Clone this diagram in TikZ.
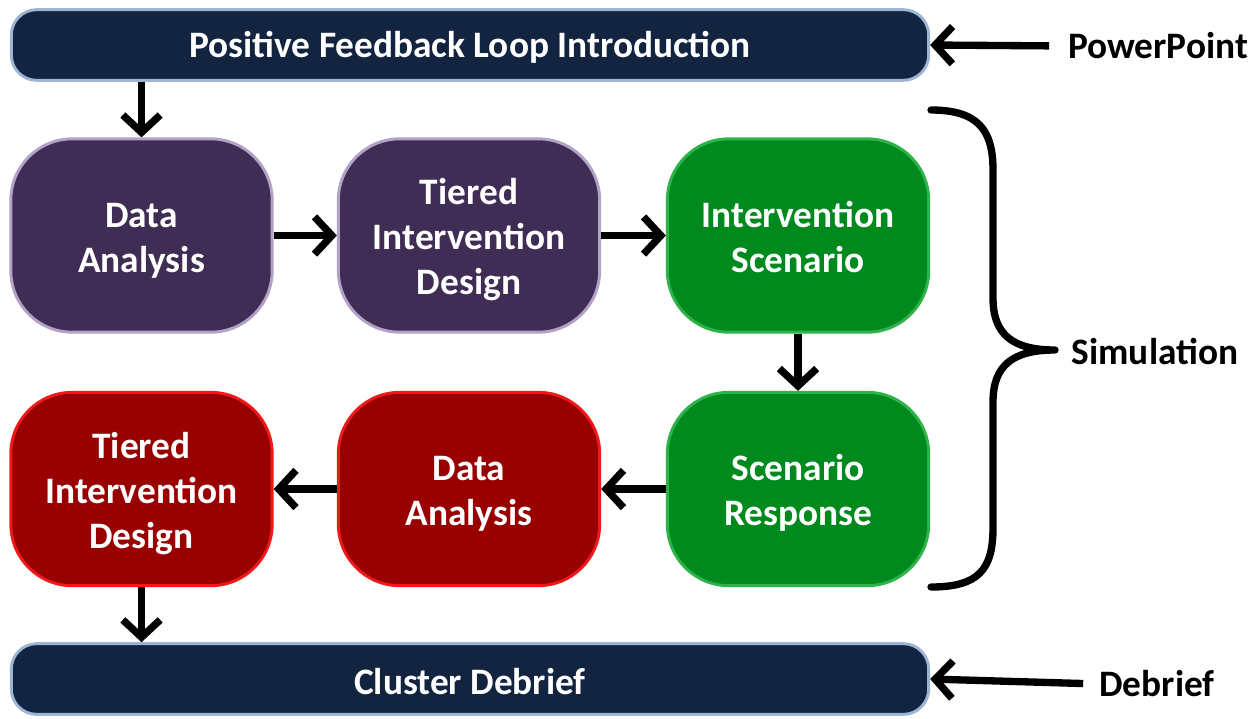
\documentclass[tikz,border=0pt]{standalone}
\usepackage{fontspec}
\setmainfont{Carlito}
\usetikzlibrary{arrows.meta}
\definecolor{navy}{HTML}{12243F}
\definecolor{navyedge}{HTML}{9DB4D4}
\definecolor{purp}{HTML}{3F2D55}
\definecolor{purpedge}{HTML}{B3A2C7}
\definecolor{grn}{HTML}{008A1E}
\definecolor{grnedge}{HTML}{2DB34A}
\definecolor{rd}{HTML}{990000}
\definecolor{rdedge}{HTML}{F01818}
\newcommand\cardtext[1]{\raisebox{-4pt}[\height][\depth]{\begin{tabular}{@{}c@{}}#1\end{tabular}}}
\newcommand\bartext[1]{\raisebox{-2pt}[\height][\depth]{#1}}
\tikzset{
  txt/.style={font=\fontsize{28}{33.75}\selectfont\bfseries},
  bar/.style={txt, draw=navyedge, line width=2.2pt, fill=navy, text=white, rounded corners=19pt,
     minimum width=688pt, minimum height=53pt, inner sep=0pt},
  card/.style={txt, line width=2.2pt, text=white, rounded corners=46pt,
     minimum width=196pt, minimum height=145pt, inner sep=0pt},
  pbox/.style={card, draw=purpedge, fill=purp},
  gbox/.style={card, draw=grnedge, fill=grn},
  rbox/.style={card, draw=rdedge, fill=rd},
  arr/.style={line width=5.5pt, -{Straight Barb[length=13pt,width=28pt,line width=5.5pt]}},
  lbl/.style={txt, text=black, inner sep=0pt},
}
\begin{document}
\begin{tikzpicture}[x=0.75pt,y=-0.75pt]
\useasboundingbox (0,0) rectangle (1255,718);
\node[bar] (top) at (470,45) {\bartext{Positive Feedback Loop Introduction}};
\node[bar] (bot) at (470,679) {\bartext{Cluster Debrief}};
\node[pbox] (da1) at (141.5,235.5) {\cardtext{Data\\Analysis}};
\node[pbox] (tid1) at (469,235.5) {\cardtext{Tiered\\Intervention\\Design}};
\node[gbox] (is) at (798,235.5) {\cardtext{Intervention\\Scenario}};
\node[rbox] (tid2) at (141.5,489) {\cardtext{Tiered\\Intervention\\Design}};
\node[rbox] (da2) at (469,489) {\cardtext{Data\\Analysis}};
\node[gbox] (sr) at (798,489) {\cardtext{Scenario\\Response}};
\node[lbl] (ppt) at (1158,46) {PowerPoint};
\node[lbl] (sim) at (1155,352) {Simulation};
\node[lbl] (deb) at (1157,684) {Debrief};
\draw[arr] (da1.north |- top.south) -- (da1.north);
\draw[arr] (da1.east) -- (tid1.west);
\draw[arr] (tid1.east) -- (is.west);
\draw[arr] (is.south) -- (sr.north);
\draw[arr] (sr.west) -- (da2.east);
\draw[arr] (da2.west) -- (tid2.east);
\draw[arr] (tid2.south) -- (tid2.south |- bot.north);
\draw[arr, shorten <=14pt] (ppt.west) -- (top.east);
\draw[arr, shorten <=12pt] (deb.west) -- (bot.east);
\coordinate (tip) at (1055,350);
\draw[line width=5.5pt, line cap=round, line join=round]
  (931,110) .. controls (978,110) and (993,130) .. (993,170) -- (993,298)
  .. controls (993,334) and (1012,350) .. (tip)
  .. controls (1012,350) and (993,366) .. (993,402) -- (993,528)
  .. controls (993,570) and (978,587) .. (931,587);
\end{tikzpicture}
\end{document}
